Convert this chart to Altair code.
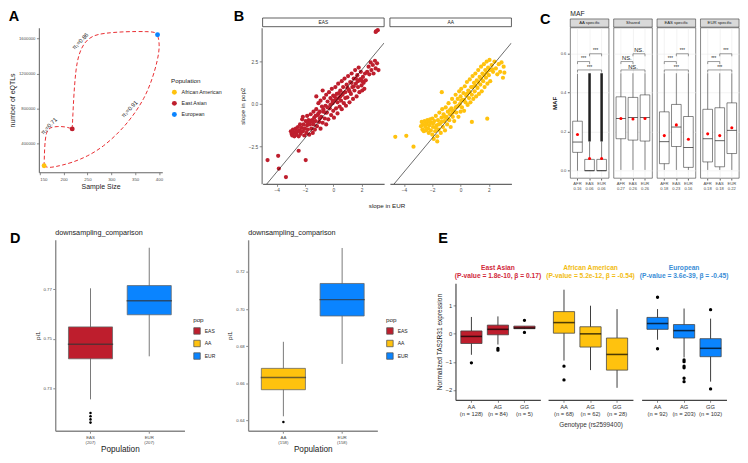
import altair as alt
import pandas as pd

FONT = "Liberation Sans"
C_EAS, C_AA, C_EUR = "#BE1E2D", "#FFC20E", "#0A84FF"
LAB = "#4D4D4D"
INK = "#1A1A1A"

# ---------------- Panel A data ----------------
a_pop = ["African American", "East Asian", "European"]
a_sample = [159, 218, 397]
a_eqtl = [147000, 569000, 1644000]

curve1_x = [159, 160, 163, 171, 188, 204, 218]
curve1_y = [147000, 367000, 532000, 587000, 598000, 594000, 569000]
curve2_x = [218, 219.4, 221.4, 225.4, 232, 244, 260.4, 283.6, 330, 376, 392.7, 397]
curve2_y = [569000, 734000, 954000, 1248000, 1431000, 1560000, 1633000, 1662000, 1681000, 1681000, 1673000, 1644000]
curve3_x = [159, 167.9, 191, 217.5, 250.5, 283.6, 316.7, 343, 369.6, 386.1, 397.4, 401.3, 399.3, 397]
curve3_y = [147000, 121000, 147000, 183000, 257000, 367000, 532000, 697000, 917000, 1138000, 1358000, 1505000, 1596000, 1644000]

pi_text = ["π₁=0.71", "π₁=0.86", "π₁=0.91"]
pi_x = [169, 235, 338]
pi_y = [602000, 1571000, 796000]

# ---------------- Panel B data ----------------
eas_x = [-4.65, -3.9, -3.85, -3.35, -2.45, -1.95, 3.0, 3.15, 3.05,
         -3.0, -2.95, -2.9, -2.85, -2.8, -2.75, -2.7, -2.65, -2.6, -2.55, -2.5, -2.45, -2.4, -2.35, -2.3,
         -2.25, -2.2, -2.15, -2.15, -2.1, -2.05, -2.0, -1.95, -1.9, -1.85, -1.85, -1.8, -1.75, -1.7, -1.65,
         -1.6, -1.55, -1.5, -1.45, -1.4, -1.4, -1.35, -1.3, -1.25, -1.2, -1.2, -1.15, -1.1, -1.05, -1.0,
         -0.95, -0.9, -0.9, -0.85, -0.8, -0.75, -0.75, -0.7, -0.65, -0.6, -0.55, -0.5, -0.5, -0.45, -0.4,
         -0.35, -0.3, -0.25, -0.2, -0.15, -0.1, -0.05, 0.0, 0.0, 0.05, 0.1, 0.15, 0.2, 0.25, 0.3, 0.3,
         0.35, 0.4, 0.45, 0.5, 0.55, 0.6, 0.6, 0.65, 0.7, 0.75, 0.8, 0.85, 0.9, 0.95, 1.0, 1.05, 1.1,
         1.15, 1.2, 1.25, 1.3, 1.35, 1.4, 1.45, 1.5, 1.55, 1.6, 1.65, 1.7, 1.75, 1.8, 1.85, 1.9, 1.95,
         2.0, 2.05, 2.1, 2.15, 2.2, 2.25, 2.3, 2.4, 2.5, 2.55, 2.65, 2.7, 2.8, 2.85, 2.95, 3.0, 3.1, 3.2,
         -2.6, -2.35, -2.05, -1.8, -1.6, -1.45, -1.25, -1.05, -0.95, -0.7, -0.55, -0.4, -0.2, -0.05, 0.1,
         0.2, 0.4, 0.5, 0.7, 0.85, 1.0, 1.15, 1.3, 1.45, 1.6, 1.75, 1.95, 2.05]
eas_y = [-3.3, -3.05, -3.8, -4.3, -2.75, -3.3, 4.25, 4.35, 4.3,
         -1.6, -1.75, -1.85, -1.5, -1.65, -1.9, -1.7, -1.45, -1.8, -1.6, -1.35, -1.9, -1.55, -1.2, -1.75,
         -1.4, -0.9, -1.6, -0.75, -1.2, -1.85, -1.45, -1.0, -1.7, -1.25, -0.7, -1.5, -0.95, -1.8, -1.2,
         -0.6, -1.45, -0.95, -1.7, -1.2, -0.45, -0.8, -1.5, -1.0, -0.3, 0.45, -1.3, -0.65, 0.05, -1.05,
         -0.45, -1.45, 0.2, -0.75, -0.15, -1.1, 0.8, -0.45, 0.35, -0.85, -0.1, -1.2, 0.55, -0.5, 0.15,
         -0.9, 0.7, -0.25, 0.35, -0.65, 0.9, 0.05, -0.4, 0.5, -0.8, 0.2, 1.0, -0.25, 0.6, -0.55, 0.1,
         1.2, 0.35, -0.15, 0.8, 0.2, 1.35, -0.3, 0.55, 1.0, 0.05, 1.5, 0.7, -0.1, 1.15, 0.4, 1.65, 0.85,
         0.1, 1.3, 0.6, 1.8, 1.0, 0.3, 1.5, 0.8, 2.0, 1.2, 0.45, 1.7, 1.0, 2.15, 0.7, 1.45, 1.9,
         1.1, 0.8, 1.6, 1.25, 0.9, 1.8, 1.4, 1.9, 2.2, 1.75, 2.45, 2.0, 2.3, 1.8, 2.55, 2.1, 2.4, 2.0,
         -1.6, -1.65, -1.45, -1.1, -1.0, -1.05, -0.7, -0.55, -0.85, -0.3, -0.5, -0.2, -0.05, 0.2, 0.45,
         0.3, 0.65, 0.45, 0.65, 0.35, 0.95, 0.75, 1.25, 1.05, 1.5, 1.35, 1.45, 1.35]
aa_x = [-4.62, -3.84, -3.33, 1.89, 0.8, -1.33,
        -2.8, -2.75, -2.7, -2.65, -2.6, -2.55, -2.5, -2.45, -2.4, -2.35, -2.3, -2.25, -2.2, -2.15, -2.1,
        -2.05, -2.0, -2.0, -1.95, -1.9, -1.85, -1.8, -1.75, -1.7, -1.65, -1.65, -1.6, -1.55, -1.5, -1.45,
        -1.4, -1.35, -1.3, -1.25, -1.2, -1.15, -1.1, -1.05, -1.0, -0.95, -0.9, -0.85, -0.8, -0.75, -0.7,
        -0.65, -0.6, -0.55, -0.5, -0.45, -0.4, -0.35, -0.3, -0.25, -0.2, -0.15, -0.1, -0.05, 0.0, 0.0,
        0.05, 0.1, 0.15, 0.2, 0.25, 0.3, 0.35, 0.4, 0.45, 0.5, 0.55, 0.6, 0.65, 0.7, 0.75, 0.8, 0.85,
        0.9, 0.95, 1.0, 1.05, 1.1, 1.15, 1.2, 1.25, 1.3, 1.35, 1.4, 1.45, 1.5, 1.55, 1.6, 1.65, 1.7,
        1.75, 1.8, 1.85, 1.9, 1.95, 2.0, 2.05, 2.1, 2.2, 2.3, 2.4, 2.5, 2.6, 2.7, 2.8, 2.9, 3.0, 3.05, 3.1,
        -2.45, -2.2, -1.95, -1.75, -1.55, -1.35, -1.15, -0.95, -0.75, -0.55, -0.35, -0.15, 0.05, 0.25,
        0.45, 0.65, 0.85, 1.05, 1.25, 1.45, 1.65, 1.85, 2.05, 2.25]
aa_y = [-1.93, -1.87, -2.51, -0.86, -1.05, 0.7,
        -1.3, -1.05, -1.5, -1.2, -1.6, -1.0, -1.35, -1.55, -1.15, -0.95, -1.45, -1.7, -1.25, -0.9, -1.55,
        -1.1, -1.8, -0.85, -1.35, -2.05, -1.0, -1.6, -0.7, -1.25, -2.2, -1.9, -0.95, -1.5, -0.5, -1.15,
        -1.7, -0.8, -0.3, -1.35, -0.6, -1.0, -1.55, -0.2, -0.75, -1.2, -0.45, 0.05, -0.95, -0.6, -1.35,
        -0.25, 0.3, -0.75, -0.4, -1.0, 0.1, 0.55, -0.5, -0.15, 0.3, -0.75, 0.75, 0.0, -0.45, 0.45,
        0.9, -0.2, 0.25, 0.65, -0.4, 1.05, 0.1, 0.5, 1.3, -0.05, 0.8, 0.35, 1.45, 0.1, 1.0, 0.55, 1.65,
        0.3, 1.25, 0.75, 1.8, 0.45, 1.4, 0.95, 2.0, 0.6, 1.6, 1.15, 2.2, 0.75, 1.8, 1.35, 2.35, 1.0,
        2.0, 1.55, 2.5, 1.2, 2.15, 1.7, 2.6, 1.35, 2.3, 1.9, 2.5, 2.1, 1.75, 2.35, 1.9, 2.45, 1.55, 2.2, 1.85,
        -1.25, -1.05, -1.15, -1.4, -1.2, -1.05, -0.75, -0.85, -0.35, -0.5, -0.2, -0.1, 0.2, 0.25,
        0.6, 0.7, 1.0, 1.1, 1.3, 1.5, 1.7, 1.85, 2.0, 2.05]
b_identity = [-5.0, 3.6]

# ---------------- Panel C data ----------------
c_panels = ["AA specific", "Shared", "EAS specific", "EUR specific"]
c_groups = ["AFR", "EAS", "EUR"]
c_mean_lab = [["0.16", "0.06", "0.06"], ["0.27", "0.26", "0.26"], ["0.18", "0.23", "0.16"], ["0.18", "0.18", "0.22"]]
c_q1 = [[0.094, 0.0, 0.0], [0.164, 0.157, 0.152], [0.036, 0.124, 0.017], [0.045, 0.020, 0.088]]
c_med = [[0.147, 0.0, 0.0], [0.268, 0.273, 0.273], [0.149, 0.224, 0.119], [0.164, 0.154, 0.207]]
c_q3 = [[0.254, 0.058, 0.058], [0.379, 0.376, 0.389], [0.302, 0.340, 0.278], [0.315, 0.323, 0.348]]
c_lo = [[0.0, 0.0, 0.0], [0.004, 0.004, 0.004], [0.004, 0.004, 0.004], [0.004, 0.004, 0.004]]
c_hi = [[0.497, 0.15, 0.15], [0.5, 0.5, 0.5], [0.5, 0.5, 0.5], [0.5, 0.5, 0.5]]
c_mean = [[0.186, 0.063, 0.063], [0.268, 0.265, 0.268], [0.180, 0.235, 0.161], [0.189, 0.180, 0.220]]
c_dense_group = ["EAS", "EUR"]
c_dense_lo = [0.15, 0.15]
c_dense_hi = [0.5, 0.5]
c_br_g1 = ["AFR", "AFR", "EAS"]
c_br_g2 = ["EUR", "EAS", "EUR"]
c_br_y = [0.517, 0.56, 0.60]
c_br_mid = ["EAS", "EAS", "EUR"]
c_br_centered = [True, False, False]
c_sig = [["***", "***", "***"], ["NS.", "NS.", "NS."], ["***", "***", "***"], ["***", "***", "***"]]

# ---------------- Panel D data ----------------
d1_lab = ["EAS\n(207)", "EUR\n(207)"]
d1_pop = ["EAS", "EUR"]
d1_q1 = [0.7419, 0.7597]
d1_med = [0.7478, 0.7654]
d1_q3 = [0.7548, 0.7715]
d1_lo = [0.7255, 0.7429]
d1_hi = [0.7704, 0.7868]
d1_out = [0.7200, 0.7187, 0.7174, 0.7161]

d2_lab = ["AA\n(158)", "EUR\n(158)"]
d2_pop = ["AA", "EUR"]
d2_q1 = [0.6566, 0.6963]
d2_med = [0.6632, 0.7051]
d2_q3 = [0.6681, 0.7138]
d2_lo = [0.6423, 0.6705]
d2_hi = [0.6824, 0.7329]
d2_out = [0.6392]

# ---------------- Panel E data ----------------
e_pops = ["EAS", "AA", "EUR"]
e_names = ["East Asian", "African American", "European"]
e_stats_txt = ["(P-value = 1.8e-10, β = 0.17)", "(P-value = 5.2e-12, β = -0.54)", "(P-value = 3.6e-39, β = -0.45)"]
e_title_col = ["#D1283A", "#F2BC12", "#3A8DD6"]
e_labs = [["AA\n(n = 128)", "AG\n(n = 84)", "GG\n(n = 5)"],
          ["AA\n(n = 68)", "AG\n(n = 62)", "GG\n(n = 28)"],
          ["AA\n(n = 92)", "AG\n(n = 203)", "GG\n(n = 102)"]]
e_q1 = [[-0.344, -0.034, 0.183], [0.023, -0.47, -1.29], [0.16, -0.149, -0.813]]
e_med = [[-0.092, 0.16, 0.206], [0.40, 0.0, -0.733], [0.367, 0.115, -0.515]]
e_q3 = [[0.103, 0.31, 0.275], [0.79, 0.252, -0.149], [0.584, 0.33, -0.172]]
e_lo = [[-0.745, -0.38, 0.183], [-0.95, -1.29, -1.92], [-0.21, -0.84, -1.7]]
e_hi = [[0.6, 0.62, 0.275], [1.57, 1.0, 0.88], [0.88, 0.9, 0.54]]
e_out_g = [[0, 1, 1, 2, 2], [0, 0], [0, 0, 1, 1, 1, 1, 1, 1, 2, 2]]
e_out_y = [[-1.03, -0.52, -0.58, 0.48, 0.05], [-1.15, -1.64],
           [1.3, -0.53, -0.93, -0.99, -1.15, -1.21, -1.58, -1.7, 0.86, -1.96]]


def axis(**kw):
    base = dict(labelFont=FONT, titleFont=FONT, labelColor=LAB, titleColor=INK,
                domainColor="#666666", domainWidth=1.1, tickColor="#666666", tickSize=2.5,
                tickWidth=0.8, labelFontSize=4.8, titleFontSize=7, titleFontWeight="normal",
                grid=False, labelPadding=1.5, titlePadding=3)
    base.update(kw)
    return alt.Axis(**base)


def letter(t, **kw):
    base = dict(text=t, anchor="start", frame="bounds", fontSize=15, fontWeight="bold", font=FONT, color="black")
    base.update(kw)
    return alt.TitleParams(**base)


# ================= A =================
curve_rows = []
for cid, (xs, ys) in enumerate([(curve1_x, curve1_y), (curve2_x, curve2_y), (curve3_x, curve3_y)]):
    for i, (x, y) in enumerate(zip(xs, ys)):
        curve_rows.append({"cid": cid, "i": i, "size": x, "eqtl": y})
curve_df = pd.DataFrame(curve_rows)
a_df = pd.DataFrame({"Population": a_pop, "size": a_sample, "eqtl": a_eqtl})
pi_df = pd.DataFrame({"t": pi_text, "size": pi_x, "eqtl": pi_y})

AW, AH = 128, 150
xa = alt.X("size:Q", scale=alt.Scale(domain=[148, 407], nice=False, zero=False),
           axis=axis(title="Sample Size", values=[150, 200, 250, 300, 350, 400], titleFontSize=7.2,
                     titlePadding=2, labelFontSize=4.5))
ya = alt.Y("eqtl:Q", scale=alt.Scale(domain=[73000, 1725000], nice=False, zero=False),
           axis=axis(title="number of eQTLs", values=[400000, 800000, 1200000, 1600000], format="d",
                     titleFontSize=7.2, titlePadding=2, labelFontSize=4.4))
a_curves = alt.Chart(curve_df).mark_line(color="#E8262B", strokeDash=[4, 2.5], strokeWidth=1,
                                         interpolate="basis").encode(x=xa, y=ya, detail="cid:N", order="i:Q")
a_txt = alt.Chart(pi_df).mark_text(angle=314, fontSize=6, font=FONT, color=INK).encode(x=xa, y=ya, text="t:N")
a_pts = alt.Chart(a_df).mark_circle(size=26, opacity=1).encode(
    x=xa, y=ya,
    color=alt.Color("Population:N", scale=alt.Scale(domain=a_pop, range=[C_AA, C_EAS, C_EUR]),
                    legend=alt.Legend(title="Population", orient="none", legendX=137, legendY=52,
                                      titleFont=FONT, labelFont=FONT, titleFontSize=6.5, labelFontSize=5.5,
                                      titleFontWeight="normal", titleColor=INK, labelColor=INK,
                                      symbolSize=26, rowPadding=4.5, titlePadding=5)))
A = alt.layer(a_curves, a_txt, a_pts).properties(width=AW, height=AH, title=letter("A", offset=4))

# ================= B =================
b_rows = []
for x, y in zip(eas_x, eas_y):
    b_rows.append({"pop": "EAS", "kind": "pt", "x": x, "y": y})
for x, y in zip(aa_x, aa_y):
    b_rows.append({"pop": "AA", "kind": "pt", "x": x, "y": y})
for p in ["EAS", "AA"]:
    for v in b_identity:
        b_rows.append({"pop": p, "kind": "line", "x": v, "y": v})
    b_rows.append({"pop": p, "kind": "strip"})
b_df = pd.DataFrame(b_rows)

BW, BH = 126, 162
bx = alt.X("x:Q", scale=alt.Scale(domain=[-5, 3.6], nice=False, zero=False),
           axis=axis(values=[-4, -2, 0, 2], title=None, labelFontSize=5))
by = alt.Y("y:Q", scale=alt.Scale(domain=[-4.7, 4.5], nice=False, zero=False),
           axis=axis(values=[-2.5, 0, 2.5], format=".1f", title="slope in pop2", titleFontSize=6.5, labelFontSize=5))
b_strip = alt.Chart().transform_filter("datum.kind == 'strip'").mark_rect(
    fill="white", stroke="#333333", strokeWidth=0.8).encode(
    x=alt.value(0), x2=alt.value(BW), y=alt.value(-10), y2=alt.value(-1))
b_strip_t = alt.Chart().transform_filter("datum.kind == 'strip'").mark_text(
    fontSize=5, font=FONT, color=INK).encode(text="pop:N", x=alt.value(BW / 2), y=alt.value(-5.5))
b_pts = alt.Chart().transform_filter("datum.kind == 'pt'").mark_circle(size=19, opacity=1).encode(
    x=bx, y=by, color=alt.Color("pop:N", scale=alt.Scale(domain=["EAS", "AA"], range=[C_EAS, C_AA]), legend=None))
b_line = alt.Chart().transform_filter("datum.kind == 'line'").mark_line(
    color="black", strokeWidth=0.6, clip=True).encode(x=bx, y=by)
B = alt.layer(b_strip, b_strip_t, b_pts, b_line, data=b_df).properties(width=BW, height=BH).facet(
    column=alt.Column("pop:N", sort=["EAS", "AA"],
                      header=alt.Header(labels=False, title="slope in EUR", titleOrient="bottom", titleFont=FONT,
                                        titleFontSize=6.5, titleFontWeight="normal", titleColor=INK, titlePadding=1)),
    spacing=4).properties(title=letter("B", offset=-7, dx=-6))

# ================= C =================
c_rows = []
for pi_, panel in enumerate(c_panels):
    labs = {g: f"{g}\n{v}" for g, v in zip(c_groups, c_mean_lab[pi_])}
    c_rows.append({"panel": panel, "kind": "strip"})
    if pi_ == 0:
        c_rows.append({"panel": panel, "kind": "maf", "txt": "MAF"})
    for gi, g in enumerate(c_groups):
        c_rows.append({"panel": panel, "kind": "box", "lab": labs[g], "q1": c_q1[pi_][gi], "med": c_med[pi_][gi],
                       "q3": c_q3[pi_][gi], "lo": c_lo[pi_][gi], "hi": c_hi[pi_][gi], "mean": c_mean[pi_][gi]})
    if pi_ == 0:
        for g, lo, hi in zip(c_dense_group, c_dense_lo, c_dense_hi):
            c_rows.append({"panel": panel, "kind": "dense", "lab": labs[g], "lo": lo, "hi": hi})
    for bi in range(3):
        g1, g2, yb = c_br_g1[bi], c_br_g2[bi], c_br_y[bi]
        c_rows.append({"panel": panel, "kind": "br", "lab": labs[g1], "lab2": labs[g2], "yb": yb})
        for g in (g1, g2):
            c_rows.append({"panel": panel, "kind": "tip", "lab": labs[g], "yb": yb, "ytip": yb - 0.013})
        t = c_sig[pi_][bi]
        c_rows.append({"panel": panel, "kind": "sigc" if c_br_centered[bi] else "sigb",
                       "tx": labs[c_br_mid[bi]], "ys": yb + 0.007, "txt": t, "fs": 6.0 if t == "NS." else 4.6})
c_df = pd.DataFrame(c_rows)

CW, CH = 40, 156
c_yscale = alt.Scale(domain=[-0.038, 0.734], nice=False, zero=False)
c_yaxis = axis(values=[0, 0.2, 0.4, 0.6], format=".1f", title="MAF", titleFontWeight="bold", titleFontSize=6.5,
               labelFontSize=4.3, grid=True, gridColor="#EBEBEB", gridWidth=0.6, domain=False,
               tickColor="#333333", tickSize=2)
c_xaxis = axis(title=None, labelExpr="split(datum.label, '\\n')", labelAngle=0, labelFontSize=4.3,
               labelLineHeight=5.5, grid=True, gridColor="#EBEBEB", gridWidth=0.6, domain=False,
               bandPosition=0.5, tickColor="#333333", tickSize=2)
c_xscale = alt.Scale(paddingInner=0, paddingOuter=0.1)


def cx(f, bp=0.5):
    return alt.X(f, type="nominal", scale=c_xscale, axis=c_xaxis, bandPosition=bp)


def cy(f):
    return alt.Y(f, type="quantitative", scale=c_yscale, axis=c_yaxis)


def ck(k):
    return alt.Chart().transform_filter(f"datum.kind == '{k}'")


c_layers = [
    ck("strip").mark_rect(fill="#D9D9D9", stroke="#333333", strokeWidth=0.6).encode(
        x=alt.value(0), x2=alt.value(CW), y=alt.value(-9), y2=alt.value(-0.5)),
    ck("strip").mark_text(fontSize=4.4, font=FONT, color=INK).encode(
        text="panel:N", x=alt.value(CW / 2), y=alt.value(-4.7)),
    ck("maf").mark_text(fontSize=7, font=FONT, color=INK, align="left", baseline="alphabetic").encode(
        text="txt:N", x=alt.value(0), y=alt.value(-12)),
    ck("box").mark_rule(color="#333333", strokeWidth=0.6).encode(x=cx("lab"), y=cy("lo"), y2="hi"),
    ck("dense").mark_rule(color="#222222", strokeWidth=2.6).encode(x=cx("lab"), y=cy("lo"), y2="hi"),
    ck("box").mark_bar(fill="white", stroke="#333333", strokeWidth=0.6, width=alt.RelativeBandSize(0.8)).encode(
        x=cx("lab"), y=cy("q1"), y2="q3"),
    ck("box").mark_tick(color=INK, thickness=1, size=10).encode(x=cx("lab"), y=cy("med")),
    ck("box").mark_circle(color="#FF0000", size=10, opacity=1).encode(x=cx("lab"), y=cy("mean")),
    ck("br").mark_rule(color="#333333", strokeWidth=0.5).encode(
        x=cx("lab"), x2=alt.X2("lab2", bandPosition=0.5), y=cy("yb")),
    ck("tip").mark_rule(color="#333333", strokeWidth=0.5).encode(x=cx("lab"), y=cy("yb"), y2="ytip"),
    ck("sigc").mark_text(baseline="alphabetic", font=FONT, color=INK).encode(
        x=cx("tx", 0.5), y=cy("ys"), text="txt:N", size=alt.Size("fs:Q", scale=None)),
    ck("sigb").mark_text(baseline="alphabetic", font=FONT, color=INK).encode(
        x=cx("tx", 0.0), y=cy("ys"), text="txt:N", size=alt.Size("fs:Q", scale=None)),
]
C = alt.layer(*c_layers, data=c_df).properties(
    width=CW, height=CH, view=alt.ViewBackground(stroke="#333333", strokeWidth=0.6)).facet(
    column=alt.Column("panel:N", sort=c_panels, header=None),
    spacing=3).resolve_scale(x="independent").properties(title=letter("C", offset=-17, dx=-12))

# ================= D & E helpers =================
POP_SCALE = alt.Scale(domain=["EAS", "AA", "EUR"], range=[C_EAS, C_AA, C_EUR])


def box_panel(stats, outl, width, height, ydom, yaxis_obj, xaxis_obj, box_band, med_size,
              box_stroke, whisk_col, med_col, med_w, pt_size, legend, title=None):
    xsc = alt.Scale(paddingInner=0, paddingOuter=0.1)
    ysc = alt.Scale(domain=ydom, nice=False, zero=False)
    X = alt.X("lab:N", scale=xsc, axis=xaxis_obj)

    def Y(f):
        return alt.Y(f, type="quantitative", scale=ysc, axis=yaxis_obj)

    sdf = pd.DataFrame(stats)
    whisk = alt.Chart(sdf).mark_rule(color=whisk_col, strokeWidth=0.9).encode(x=X, y=Y("lo"), y2="hi")
    box = alt.Chart(sdf).mark_bar(stroke=box_stroke, strokeWidth=0.8, width=alt.RelativeBandSize(box_band)).encode(
        x=X, y=Y("q1"), y2="q3", color=alt.Color("pop:N", scale=POP_SCALE, legend=legend))
    med = alt.Chart(sdf).mark_tick(color=med_col, thickness=med_w, size=med_size).encode(x=X, y=Y("med"))
    out = alt.Chart(pd.DataFrame(outl)).mark_circle(color="black", size=pt_size, opacity=1).encode(x=X, y=Y("y"))
    ch = alt.layer(whisk, box, med, out).properties(width=width, height=height)
    if title is not None:
        ch = ch.properties(title=title)
    return ch


def d_legend(width):
    return alt.Legend(title="pop", orient="none", legendX=width + 9, legendY=80, symbolType="square",
                      symbolSize=45, symbolStrokeColor="#555555", symbolStrokeWidth=0.8,
                      titleFont=FONT, labelFont=FONT, titleFontSize=6.5, labelFontSize=5.2,
                      titleFontWeight="normal", titleColor=INK, labelColor=INK, rowPadding=3, titlePadding=4)


DW, DH = 134, 198
d_title = alt.TitleParams("downsampling_comparison", anchor="start", frame="group", fontSize=7.5,
                          fontWeight="normal", font=FONT, color=INK, offset=3)


def d_xaxis():
    return axis(title="Population", titleFontSize=8.5, titlePadding=1, labelExpr="split(datum.label, '\\n')",
                labelAngle=0, labelFontSize=4.5, labelLineHeight=5.5, domainColor="#888888", domainWidth=1.4)


D1 = box_panel(
    dict(lab=d1_lab, pop=d1_pop, q1=d1_q1, med=d1_med, q3=d1_q3, lo=d1_lo, hi=d1_hi),
    dict(lab=[d1_lab[0]] * len(d1_out), y=d1_out),
    DW, DH, [0.7128, 0.79],
    axis(values=[0.73, 0.75, 0.77], format=".2f", title="pi1", titleFontSize=6.5, labelFontSize=4.5,
         domainColor="#888888", domainWidth=1.4),
    d_xaxis(), 0.75, 47, "#666666", "#666666", "#333333", 1.5, 7, d_legend(DW), d_title)

D2 = box_panel(
    dict(lab=d2_lab, pop=d2_pop, q1=d2_q1, med=d2_med, q3=d2_q3, lo=d2_lo, hi=d2_hi),
    dict(lab=[d2_lab[0]] * len(d2_out), y=d2_out),
    DW, DH, [0.6345, 0.7373],
    axis(values=[0.64, 0.66, 0.68, 0.70, 0.72], format=".2f", title="pi1", titleFontSize=6.5, labelFontSize=4.5,
         domainColor="#888888", domainWidth=1.4),
    d_xaxis(), 0.75, 47, "#666666", "#666666", "#333333", 1.5, 7, d_legend(DW), d_title)

D_letter = alt.Chart(pd.DataFrame({"t": ["D"]})).mark_text(
    fontSize=15, fontWeight="bold", align="left", baseline="alphabetic", font=FONT, color="black").encode(
    text="t:N", x=alt.value(-30), y=alt.value(3)).properties(width=2, height=1)

# ================= E =================
EW, EH = 88, 121
e_panels = []
for k in range(3):
    stats = dict(lab=e_labs[k], pop=[e_pops[k]] * 3, q1=e_q1[k], med=e_med[k], q3=e_q3[k], lo=e_lo[k], hi=e_hi[k])
    outl = dict(lab=[e_labs[k][g] for g in e_out_g[k]], y=e_out_y[k])
    yax = axis(values=[-2, -1, 0, 1], format="d", title="Normalized TAS2R31 expression", titleFontSize=6.8,
               labelFontSize=6, labelColor="#333333", domainColor="#444444", domainWidth=1.2) if k == 0 else None
    xax = axis(title=("Genotype (rs2599400)" if k == 1 else None), titleFontSize=6.6, titleColor="#333333",
               titlePadding=5, labelExpr="split(datum.label, '\\n')", labelAngle=0, labelFontSize=6,
               labelColor="#333333", labelLineHeight=7.5, domainColor="#444444", domainWidth=1.2)
    ttl = alt.TitleParams(text=[e_names[k], e_stats_txt[k]], color=e_title_col[k], fontSize=6.9, fontWeight="bold",
                          font=FONT, anchor="middle", offset=3, lineHeight=8.5)
    e_panels.append(box_panel(stats, outl, EW, EH, [-2.35, 1.8], yax, xax, 0.8, 22, "#444444", "#222222",
                              "black", 1.6, 12, None, ttl))

E_panels = alt.hconcat(*e_panels, spacing=5).resolve_scale(x="independent", y="independent", color="independent")
E_letter = alt.Chart(pd.DataFrame({"t": ["E"]})).mark_text(
    fontSize=15, fontWeight="bold", align="left", baseline="alphabetic", font=FONT, color="black").encode(
    text="t:N", x=alt.value(-18), y=alt.value(3)).properties(width=1, height=2)
E_block = alt.vconcat(E_letter, E_panels, spacing=19).resolve_scale(color="independent")

# ================= assemble =================
AB = alt.hconcat(A, B, spacing=12).resolve_scale(color="independent", x="independent", y="independent")
top = alt.hconcat(AB, C, spacing=28).resolve_scale(color="independent", x="independent", y="independent")
DD = alt.hconcat(D1, D2, spacing=12).resolve_scale(
    color="independent", x="independent", y="independent").resolve_legend(color="independent")
inner = alt.hconcat(DD, E_block, spacing=29).resolve_scale(
    color="independent", x="independent", y="independent").resolve_legend(color="independent")
bottom = alt.hconcat(D_letter, inner, spacing=-7).resolve_scale(color="independent")

chart = alt.vconcat(top, bottom, spacing=20).resolve_scale(
    color="independent", x="independent", y="independent").properties(
    padding={"top": -7, "left": 0, "right": 0, "bottom": 0}).configure(
    font=FONT).configure_view(stroke=None)

chart.save("out.html", embed_options={"renderer": "svg", "actions": False})
